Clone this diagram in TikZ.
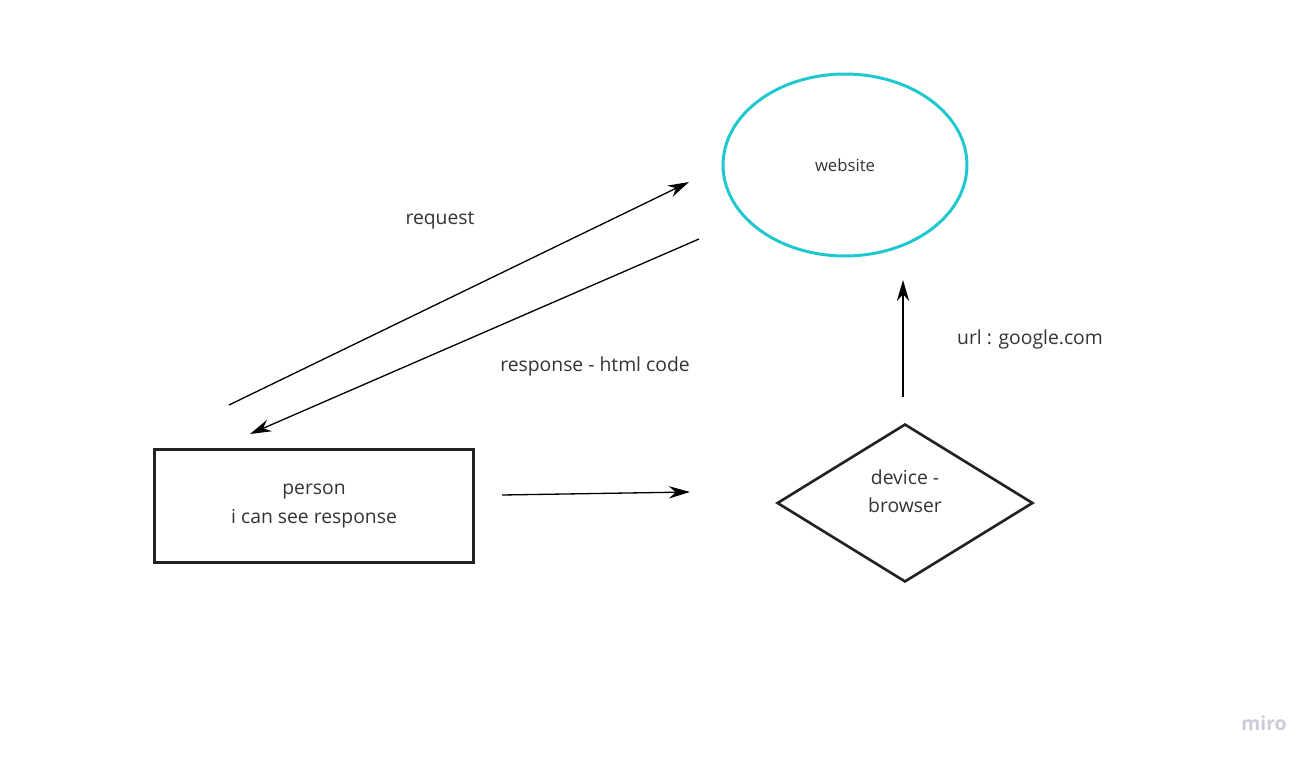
\documentclass[tikz,border=0pt]{standalone}
\usepackage{fontspec}
\setmainfont{Open Sans}
\usetikzlibrary{shapes.geometric,arrows.meta}
\definecolor{sitecyan}{HTML}{1FC8CF}
\definecolor{boxline}{HTML}{222222}
\definecolor{labeltext}{HTML}{333333}
\definecolor{mirogray}{HTML}{CBCCD9}
\tikzset{
    label text/.style={text=labeltext,font=\fontsize{11}{16}\selectfont,align=center},
    flow/.style={-{Stealth[length=12pt,width=7pt]},line width=0.75pt},
}

\begin{document}
\begin{tikzpicture}[x=0.02cm,y=-0.02cm]
    \useasboundingbox (0,0) rectangle (1315,760);
    % shapes
    \node[ellipse,draw=sitecyan,line width=1.7pt,minimum width=4.88cm,minimum height=3.64cm,inner sep=0pt,label text,font=\fontsize{9.5}{11}\selectfont] (website) at (845,165) {website};
    \node[rectangle,draw=boxline,line width=1.7pt,minimum width=6.4cm,minimum height=2.28cm,label text] (person) at (314,506) {person\\i can see response};
    \node[diamond,draw=boxline,line width=1.5pt,minimum width=5.12cm,minimum height=3.16cm,inner sep=0pt] (device) at (905,503) {};
    \node[label text] (devicetext) at (905,491) {device -\\browser};
    % free ends of the arrows
    \coordinate (reqstart) at (229,405);
    \coordinate (reqend) at (689,182);
    \coordinate (respstart) at (699,239);
    \coordinate (respend) at (250,434);
    \coordinate (openstart) at (502,495);
    \coordinate (openend) at (690,492);
    \coordinate (urlstart) at (903,397);
    \coordinate (urlend) at (903,280);
    \foreach \a/\b in {reqstart/reqend,respstart/respend,openstart/openend,urlstart/urlend}{%
        \draw[flow] (\a) -- (\b);
    }
    % labels
    \foreach \n/\x/\y/\t in {request/440/220/request,response/595/366/response - html code,url/1030/339/url : google.com}{%
        \node[label text] (\n) at (\x,\y) {\t};
    }
    \node[text=mirogray,font=\fontsize{11}{12}\selectfont\bfseries] (miro) at (1264,723) {miro};
\end{tikzpicture}
\end{document}
